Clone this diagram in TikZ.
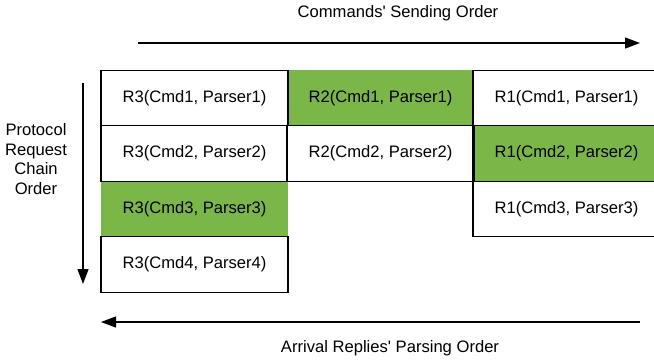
\documentclass[tikz,border=0pt]{standalone}
\usepackage{fontspec}
\setmainfont{Liberation Sans}
\usetikzlibrary{arrows.meta}
\definecolor{cellgreen}{RGB}{122,182,72}
\begin{document}
\begin{tikzpicture}[x=1pt,y=-1pt,
  every node/.style={font=\fontsize{16.6}{19.5}\selectfont},
  cell/.style={minimum width=187pt,minimum height=55.5pt,inner sep=0pt,outer sep=0pt,anchor=center},
  whitecell/.style={cell,draw=black,line width=1.3pt,fill=white},
  greencell/.style={cell,fill=cellgreen},
  orderarrow/.style={line width=1.3pt,-{Triangle[length=15pt,width=11pt]}},
  lbl/.style={inner sep=0pt,align=center}]
\useasboundingbox (0,0) rectangle (654,362);
% green cells (no border)
\node[greencell] (c21) at (380.5,98) {R2(Cmd1, Parser1)};
\node[greencell] (c32) at (566.5,153.5) {R1(Cmd2, Parser2)};
\node[greencell] (c13) at (194.5,209) {R3(Cmd3, Parser3)};
% white cells
\node[whitecell] (c11) at (194.5,98) {R3(Cmd1, Parser1)};
\node[whitecell] (c12) at (194.5,153.5) {R3(Cmd2, Parser2)};
\node[whitecell] (c14) at (194.5,264.5) {R3(Cmd4, Parser4)};
\node[whitecell] (c22) at (380.5,153.5) {R2(Cmd2, Parser2)};
\node[whitecell] (c31) at (566.5,98) {R1(Cmd1, Parser1)};
\node[whitecell] (c33) at (566.5,209) {R1(Cmd3, Parser3)};
\draw[line width=1.3pt] (c32.north west) -- (c32.south west);
% arrows
\coordinate (ts) at (138,43);
\coordinate (te) at (640,43);
\coordinate (ls) at (83,83);
\coordinate (le) at (83,284);
\coordinate (bs) at (640,322);
\coordinate (be) at (101,322);
\draw[orderarrow] (ts) -- (te);
\draw[orderarrow] (ls) -- (le);
\draw[orderarrow] (bs) -- (be);
% labels
\node[lbl] (tl) at (398,13) {Commands\textquotesingle{} Sending Order};
\node[lbl] (bl) at (390,348) {Arrival Replies\textquotesingle{} Parsing Order};
\node[lbl] (ll) at (36,159) {Protocol\\Request\\Chain\\Order};
\end{tikzpicture}
\end{document}
